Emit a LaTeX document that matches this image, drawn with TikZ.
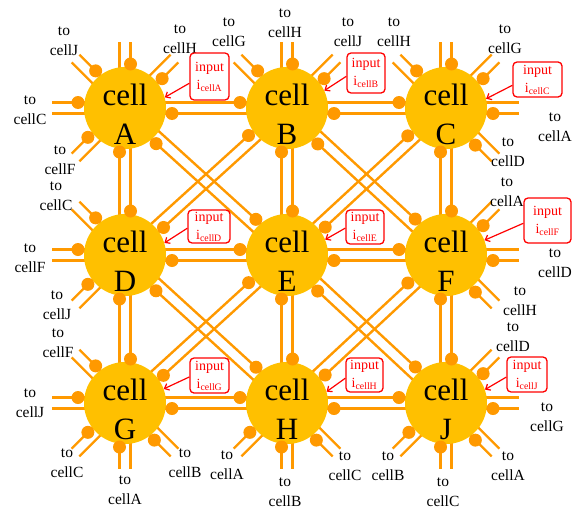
\documentclass[tikz,border=0pt]{standalone}
\usepackage{fontspec}
\setmainfont{Liberation Serif}
\usetikzlibrary{calc,arrows.meta}
\definecolor{cellfill}{RGB}{255,192,0}
\definecolor{wire}{RGB}{255,153,0}
\definecolor{inred}{RGB}{255,0,0}
\begin{document}
\begin{tikzpicture}[x=1pt,y=-1pt,
  wireline/.style={draw=wire,line width=2.4pt},
  cellc/.style={circle,fill=cellfill,minimum size=82pt,inner sep=0pt},
  celltxt/.style={font=\fontsize{31}{31}\selectfont,anchor=base,inner sep=0pt},
  lbl/.style={align=center,font=\fontsize{15.5}{20}\selectfont,inner sep=0pt},
  inbox/.style={draw=inred,line width=1.3pt,rounded corners=4pt,text=inred,align=center,font=\fontsize{14}{18}\selectfont,inner sep=0pt},
  inarrow/.style={draw=inred,line width=1.2pt,-{Straight Barb[length=4pt,width=7pt]}}]
\useasboundingbox (0,0) rectangle (580,511);
% cell centres
\coordinate (pA) at (125,108); \coordinate (pB) at (287,108); \coordinate (pC) at (446,108);
\coordinate (pD) at (125,255); \coordinate (pE) at (287,255); \coordinate (pF) at (446,255);
\coordinate (pG) at (125,403); \coordinate (pH) at (287,403); \coordinate (pJ) at (446,403);
\def\edgelist{A/B/47,B/C/47,D/E/47,E/F/47,G/H/47,H/J/47,A/D/44,D/G/44,B/E/44,E/H/44,C/F/44,F/J/44,A/E/47,B/F/47,D/H/47,E/J/47,B/D/47,C/E/47,E/G/47,F/H/47}
\def\stublist{A/90/66/44,A/45/70/47,A/135/70/47,A/180/73/47,A/-135/70/47,
B/90/66/44,B/45/70/47,B/135/70/47,
C/90/66/44,C/45/70/47,C/135/70/47,C/0/73/47,C/-45/70/47,
D/135/70/47,D/180/73/47,D/-135/70/47,
F/45/70/47,F/0/73/47,F/-45/70/47,
G/135/70/47,G/180/73/47,G/-135/70/47,G/-90/66/44,G/-45/70/47,
H/-135/70/47,H/-90/66/44,H/-45/70/47,
J/45/70/47,J/0/73/47,J/-45/70/47,J/-90/66/44,J/-135/70/47}
% wires between cells
\foreach \a/\b/\d in \edgelist {
  \coordinate (s1) at ($(p\a)!5.5pt!-90:(p\b)$);
  \coordinate (e1) at ($(p\b)!5.5pt!90:(p\a)$);
  \coordinate (s2) at ($(p\b)!5.5pt!-90:(p\a)$);
  \coordinate (e2) at ($(p\a)!5.5pt!90:(p\b)$);
  \draw[wireline] (s1) -- (e1);
  \draw[wireline] (s2) -- (e2);
}
% free wire stubs
\foreach \c/\ang/\len/\d in \stublist {
  \coordinate (t) at ($(p\c)+(\ang:\len pt)$);
  \coordinate (s1) at ($(p\c)!5.5pt!-90:(t)$);
  \coordinate (e1) at ($(t)!5.5pt!90:(p\c)$);
  \coordinate (s2) at ($(p\c)!5.5pt!90:(t)$);
  \coordinate (e2) at ($(t)!5.5pt!-90:(p\c)$);
  \draw[wireline] (s1) -- (e1);
  \draw[wireline] (s2) -- (e2);
}
% cells
\foreach \c in {A,B,C,D,E,F,G,H,J} {
  \node[cellc] (c\c) at (p\c) {};
}
% dots
\foreach \a/\b/\d in \edgelist {
  \coordinate (s1) at ($(p\a)!5.5pt!-90:(p\b)$);
  \coordinate (e1) at ($(p\b)!5.5pt!90:(p\a)$);
  \coordinate (s2) at ($(p\b)!5.5pt!-90:(p\a)$);
  \coordinate (e2) at ($(p\a)!5.5pt!90:(p\b)$);
  \fill[wire] ($(s1)!\d pt!(e1)$) circle (6.5pt);
  \fill[wire] ($(s2)!\d pt!(e2)$) circle (6.5pt);
}
\foreach \c/\ang/\len/\d in \stublist {
  \coordinate (t) at ($(p\c)+(\ang:\len pt)$);
  \coordinate (s1) at ($(p\c)!5.5pt!-90:(t)$);
  \coordinate (e1) at ($(t)!5.5pt!90:(p\c)$);
  \fill[wire] ($(s1)!\d pt!(e1)$) circle (6.5pt);
}
% cell texts
\foreach \c in {A,B,C,D,E,F,G,H,J} {
  \node[celltxt] (u\c) at ($(p\c)+(0,-3)$) {cell};
  \node[celltxt] (v\c) at ($(p\c)+(0,36)$) {\c};
}
% labels
\node[lbl] (l1) at (64,41) {to\\cellJ};
\node[lbl] (l2) at (180,39) {to\\cellH};
\node[lbl] (l3) at (229,32) {to\\cellG};
\node[lbl] (l4) at (285,23) {to\\cellH};
\node[lbl] (l5) at (348,32) {to\\cellJ};
\node[lbl] (l6) at (394,32) {to\\cellH};
\node[lbl] (l7) at (505,39) {to\\cellG};
\node[lbl] (l8) at (30,110) {to\\cellC};
\node[lbl] (l9) at (555,127) {to\\cellA};
\node[lbl] (l10) at (60,160) {to\\cellF};
\node[lbl] (l11) at (508,152) {to\\cellD};
\node[lbl] (l12) at (56,196) {to\\cellC};
\node[lbl] (l13) at (507,192) {to\\cellA};
\node[lbl] (l14) at (30,258) {to\\cellF};
\node[lbl] (l15) at (555,263) {to\\cellD};
\node[lbl] (l16) at (57,305) {to\\cellJ};
\node[lbl] (l17) at (520,301) {to\\cellH};
\node[lbl] (l18) at (58,343) {to\\cellF};
\node[lbl] (l19) at (513,337) {to\\cellD};
\node[lbl] (l20) at (30,403) {to\\cellJ};
\node[lbl] (l21) at (547,417) {to\\cellG};
\node[lbl] (l22) at (67,463) {to\\cellC};
\node[lbl] (l23) at (125,490) {to\\cellA};
\node[lbl] (l24) at (185,463) {to\\cellB};
\node[lbl] (l25) at (227,465) {to\\cellA};
\node[lbl] (l26) at (285,492) {to\\cellB};
\node[lbl] (l27) at (345,466) {to\\cellC};
\node[lbl] (l28) at (388,466) {to\\cellB};
\node[lbl] (l29) at (443,492) {to\\cellC};
\node[lbl] (l30) at (508,466) {to\\cellA};
% input boxes
\node[inbox,minimum width=39pt,minimum height=47pt] (bA) at (209.5,76.5) {input\\i\textsubscript{cellA}};
\node[inbox,minimum width=38pt,minimum height=40pt] (bB) at (366,73) {input\\i\textsubscript{cellB}};
\node[inbox,minimum width=49pt,minimum height=35pt] (bC) at (537.5,79.5) {input\\i\textsubscript{cellC}};
\node[inbox,minimum width=42pt,minimum height=33pt] (bD) at (209,226.5) {input\\i\textsubscript{cellD}};
\node[inbox,minimum width=38pt,minimum height=34pt] (bE) at (365,227) {input\\i\textsubscript{cellE}};
\node[inbox,minimum width=47pt,minimum height=45pt] (bF) at (547.5,220.5) {input\\i\textsubscript{cellF}};
\node[inbox,minimum width=39pt,minimum height=35pt] (bG) at (209.5,375.5) {input\\i\textsubscript{cellG}};
\node[inbox,minimum width=37pt,minimum height=34pt] (bH) at (364.5,375) {input\\i\textsubscript{cellH}};
\node[inbox,minimum width=40pt,minimum height=35pt] (bJ) at (527,374.5) {input\\i\textsubscript{cellJ}};
% input arrows
\draw[inarrow] ($(bA.north west)!0.64!(bA.south west)$) -- (cA.15);
\draw[inarrow] ($(bB.north west)!0.58!(bB.south west)$) -- (cB.25);
\draw[inarrow] ($(bC.north west)!0.66!(bC.south west)$) -- (cC.13);
\draw[inarrow] ($(bD.north west)!0.55!(bD.south west)$) -- (cD.17);
\draw[inarrow] ($(bE.north west)!0.53!(bE.south west)$) -- (cE.22);
\draw[inarrow] ($(bF.north west)!0.56!(bF.south west)$) -- (cF.21);
\draw[inarrow] ($(bG.north west)!0.54!(bG.south west)$) -- (cG.20);
\draw[inarrow] ($(bH.north west)!0.59!(bH.south west)$) -- (cH.16);
\draw[inarrow] ($(bJ.north west)!0.57!(bJ.south west)$) -- (cJ.19);
\end{tikzpicture}
\end{document}
